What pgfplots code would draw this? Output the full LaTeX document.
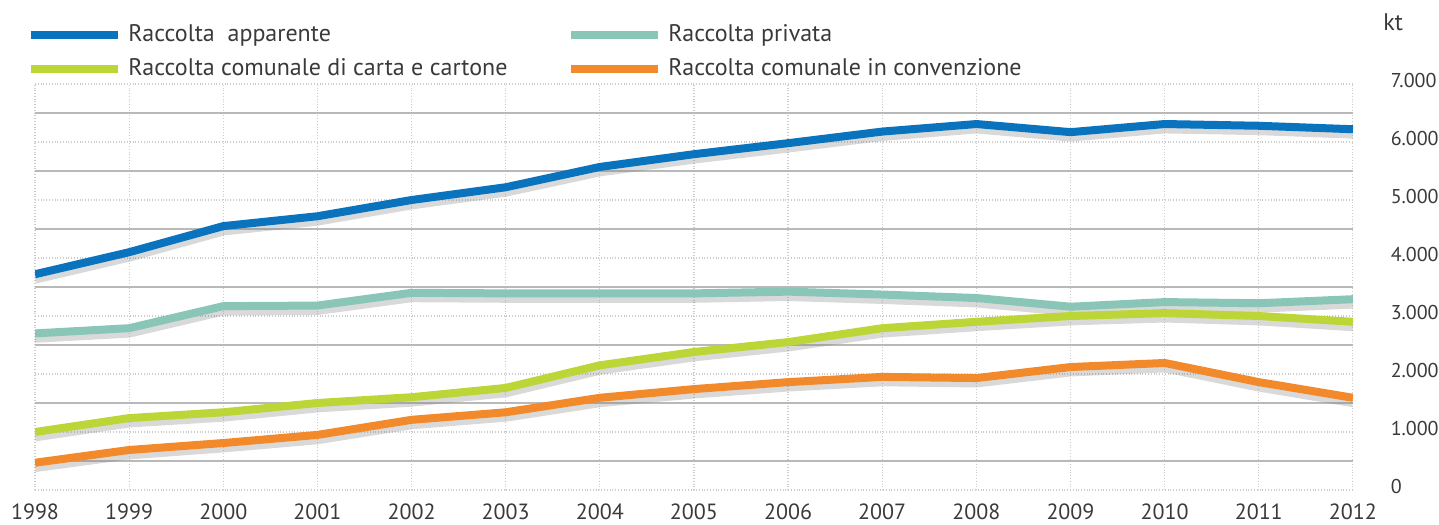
\documentclass[border=0pt]{standalone}
\usepackage{pgfplots}
\pgfplotsset{compat=1.18}
\usepackage{pgfplotstable}
\usepackage{fontspec}
\setmainfont{PT Sans}
\definecolor{cblue}{HTML}{0A73BE}
\definecolor{cteal}{HTML}{89C6B7}
\definecolor{cgreen}{HTML}{BCD637}
\definecolor{corange}{HTML}{F28A2C}
\definecolor{ctext}{HTML}{3A3A3A}
\pgfplotstableread{
year app priv carta conv
1998 3720 2700 1000 470
1999 4100 2790 1240 690
2000 4550 3170 1340 810
2001 4720 3180 1500 950
2002 5000 3400 1600 1210
2003 5220 3390 1760 1340
2004 5570 3390 2150 1590
2005 5790 3390 2380 1740
2006 5980 3420 2550 1860
2007 6180 3370 2790 1950
2008 6310 3310 2900 1930
2009 6170 3160 3000 2120
2010 6310 3240 3050 2190
2011 6280 3220 3000 1860
2012 6220 3290 2900 1590
}\data
\begin{document}
\fontsize{11bp}{13bp}\selectfont
\begin{tikzpicture}
\begin{axis}[
  name=ax,
  at={(0,0)}, anchor=south west, scale only axis,
  width=659bp, height=203bp,
  xmin=1998, xmax=2012, ymin=0, ymax=7000,
  xtick={1998,...,2012},
  ytick={0,1000,...,7000},
  minor ytick={500,1500,...,6500},
  yticklabel pos=right,
  axis line style={draw=none},
  major tick length=0pt, minor tick length=0pt,
  xmajorgrids, ymajorgrids, yminorgrids,
  major x grid style={gray!40, densely dotted, line width=0.6bp},
  major y grid style={gray!40, densely dotted, line width=0.6bp},
  minor y grid style={gray!55, line width=0.6bp},
  /pgf/number format/assume math mode=true,
  tick label style={font=\fontsize{11bp}{13bp}\selectfont, text=ctext},
  xticklabel style={/pgf/number format/1000 sep={}, anchor=north, yshift=-3bp},
  yticklabel style={/pgf/number format/1000 sep={.}, anchor=west, xshift=15bp, yshift=2bp,
    font=\fontsize{10bp}{12bp}\selectfont},
  legend columns=2,
  legend style={at={(axis description cs:0,1)}, anchor=north west,
    xshift=-4bp, yshift=30bp, draw=none, fill=none, inner sep=0pt,
    row sep=6bp, column sep=0pt,
    nodes={inner sep=0pt, text height=8.5bp, text depth=2.5bp, text=ctext,
      font=\fontsize{12bp}{14bp}\selectfont}},
  legend cell align=left,
  legend image code/.code={\draw[#1, line width=4bp] (0bp,0bp) -- (43.5bp,0bp);},
]
\addplot[forget plot, gray, opacity=0.3, line width=5bp, yshift=-2.2bp] table[x=year,y=app] {\data};
\addplot[forget plot, gray, opacity=0.3, line width=5bp, yshift=-2.2bp] table[x=year,y=priv] {\data};
\addplot[forget plot, gray, opacity=0.3, line width=5bp, yshift=-2.2bp] table[x=year,y=carta] {\data};
\addplot[forget plot, gray, opacity=0.3, line width=5bp, yshift=-2.2bp] table[x=year,y=conv] {\data};
\addplot[cblue, line width=4bp] table[x=year,y=app] {\data};
\addlegendentry{\makebox[222.5bp][l]{\hspace{3bp}Raccolta\ \ apparente}}
\addplot[cteal, line width=4bp] table[x=year,y=priv] {\data};
\addlegendentry{\hspace{3bp}Raccolta privata}
\addplot[cgreen, line width=4bp] table[x=year,y=carta] {\data};
\addlegendentry{\makebox[222.5bp][l]{\hspace{3bp}Raccolta comunale di carta e cartone}}
\addplot[corange, line width=4bp] table[x=year,y=conv] {\data};
\addlegendentry{\hspace{3bp}Raccolta comunale in convenzione}
\end{axis}
\node[anchor=west, text=ctext, font=\fontsize{12bp}{14bp}\selectfont, inner sep=0pt] at (ax.north east) [xshift=15bp, yshift=31bp] {kt};
\pgfresetboundingbox
\useasboundingbox (-17.5bp,-17.5bp) rectangle (702bp,245bp);
\end{tikzpicture}
\end{document}
